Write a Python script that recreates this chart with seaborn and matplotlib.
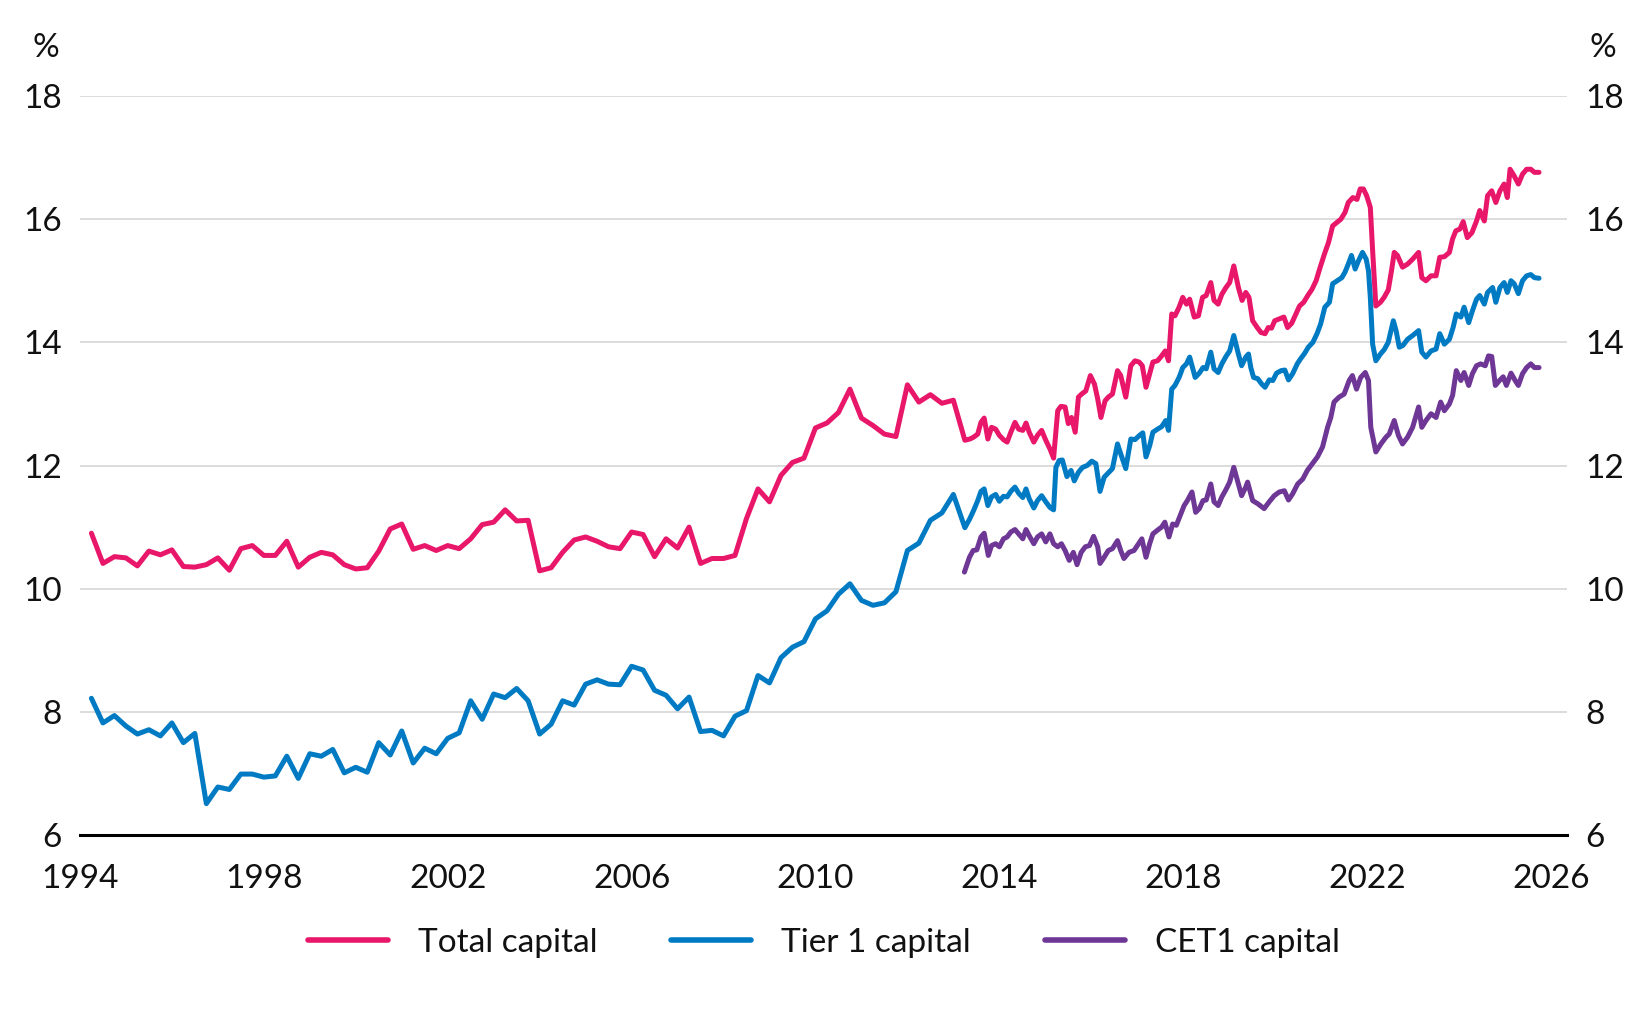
import numpy as np
import pandas as pd
import seaborn as sns
import matplotlib
matplotlib.use("Agg")
import matplotlib.pyplot as plt
from matplotlib.lines import Line2D

# ---------------- data ----------------
series_names = ["Total capital", "Tier 1 capital", "CET1 capital"]
series_colors = ["#E8176A", "#007BC3", "#6E3796"]

# quarterly readings 1994.25 .. 2013.25
quarter_years = np.arange(1994.25, 2013.26, 0.25)
total_q = [10.90, 10.41, 10.52,
           10.50, 10.37, 10.61, 10.55,
           10.63, 10.36, 10.35, 10.39,
           10.50, 10.30, 10.65, 10.70,
           10.54, 10.54, 10.77, 10.35,
           10.51, 10.59, 10.55, 10.39,
           10.32, 10.34, 10.61, 10.97,
           11.05, 10.64, 10.70, 10.62,
           10.70, 10.65, 10.81, 11.04,
           11.08, 11.28, 11.10, 11.11,
           10.29, 10.34, 10.59, 10.79,
           10.84, 10.77, 10.68, 10.65,
           10.92, 10.88, 10.52, 10.81,
           10.66, 11.00, 10.41, 10.49,
           10.49, 10.54, 11.14, 11.62,
           11.41, 11.84, 12.05, 12.12,
           12.61, 12.69, 12.86, 13.24,
           12.77, 12.65, 12.51, 12.47,
           13.31, 13.03, 13.15, 13.01,
           13.06, 12.41]
tier1_q = [8.22, 7.82, 7.94,
           7.77, 7.64, 7.71, 7.61,
           7.82, 7.50, 7.65, 6.51,
           6.78, 6.74, 6.99, 6.99,
           6.94, 6.96, 7.28, 6.92,
           7.32, 7.28, 7.39, 7.01,
           7.10, 7.02, 7.50, 7.30,
           7.69, 7.17, 7.41, 7.32,
           7.57, 7.66, 8.18, 7.88,
           8.29, 8.23, 8.38, 8.18,
           7.64, 7.80, 8.18, 8.11,
           8.45, 8.52, 8.45, 8.44,
           8.74, 8.68, 8.35, 8.27,
           8.05, 8.24, 7.68, 7.70,
           7.61, 7.93, 8.02, 8.59,
           8.47, 8.88, 9.05, 9.14,
           9.51, 9.64, 9.91, 10.08,
           9.81, 9.73, 9.77, 9.95,
           10.62, 10.74, 11.11, 11.23,
           11.53, 10.99]

# monthly readings from 2013 onwards
total_m_years = [2013.36, 2013.44, 2013.53, 2013.60, 2013.67, 2013.75, 2013.83, 2013.92,
                 2014.00, 2014.09, 2014.17, 2014.25, 2014.34, 2014.42, 2014.51, 2014.58,
                 2014.65, 2014.75, 2014.83, 2014.92, 2015.01, 2015.10, 2015.18, 2015.27,
                 2015.34, 2015.43, 2015.50, 2015.57, 2015.65, 2015.72, 2015.79, 2015.88,
                 2015.98, 2016.07, 2016.14, 2016.21, 2016.30, 2016.37, 2016.46, 2016.57,
                 2016.64, 2016.75, 2016.86, 2016.95, 2017.04, 2017.11, 2017.19, 2017.27,
                 2017.34, 2017.44, 2017.51, 2017.61, 2017.68, 2017.75, 2017.82, 2017.91,
                 2017.99, 2018.07, 2018.14, 2018.24, 2018.33, 2018.42, 2018.50, 2018.60,
                 2018.67, 2018.76, 2018.84, 2018.93, 2019.01, 2019.10, 2019.20, 2019.28,
                 2019.36, 2019.43, 2019.51, 2019.61, 2019.69, 2019.78, 2019.85, 2019.92,
                 2019.99, 2020.09, 2020.19, 2020.27, 2020.36, 2020.45, 2020.53, 2020.62,
                 2020.71, 2020.80, 2020.89, 2020.98, 2021.07, 2021.16, 2021.25, 2021.35,
                 2021.43, 2021.52, 2021.59, 2021.69, 2021.78, 2021.85, 2021.92, 2021.99,
                 2022.07, 2022.12, 2022.19, 2022.29, 2022.37, 2022.46, 2022.53, 2022.59,
                 2022.66, 2022.77, 2022.88, 2022.99, 2023.12, 2023.19, 2023.28, 2023.39,
                 2023.50, 2023.58, 2023.68, 2023.79, 2023.86, 2023.93, 2024.02, 2024.09,
                 2024.18, 2024.28, 2024.38, 2024.45, 2024.55, 2024.62, 2024.71, 2024.80,
                 2024.89, 2024.98, 2025.05, 2025.11, 2025.20, 2025.29, 2025.38, 2025.47,
                 2025.56, 2025.64, 2025.74]
total_m = [12.43, 12.46, 12.51, 12.70, 12.77, 12.43, 12.62, 12.59,
           12.49, 12.42, 12.38, 12.54, 12.70, 12.59, 12.57, 12.69,
           12.54, 12.38, 12.49, 12.57, 12.41, 12.27, 12.12, 12.89,
           12.96, 12.95, 12.68, 12.78, 12.54, 13.11, 13.16, 13.21,
           13.46, 13.32, 13.08, 12.78, 13.05, 13.11, 13.16, 13.54,
           13.46, 13.11, 13.62, 13.70, 13.68, 13.62, 13.27, 13.49,
           13.68, 13.70, 13.76, 13.86, 13.70, 14.46, 14.43, 14.57,
           14.73, 14.62, 14.70, 14.41, 14.43, 14.73, 14.76, 14.97,
           14.68, 14.62, 14.78, 14.89, 14.97, 15.24, 14.89, 14.68,
           14.81, 14.73, 14.35, 14.24, 14.16, 14.14, 14.24, 14.23,
           14.35, 14.38, 14.41, 14.24, 14.31, 14.46, 14.59, 14.65,
           14.76, 14.86, 15.00, 15.22, 15.43, 15.62, 15.89, 15.95,
           16.00, 16.11, 16.27, 16.35, 16.32, 16.49, 16.49, 16.38,
           16.19, 15.49, 14.59, 14.65, 14.73, 14.85, 15.16, 15.46,
           15.41, 15.22, 15.27, 15.35, 15.46, 15.05, 15.00, 15.08,
           15.08, 15.38, 15.39, 15.46, 15.68, 15.81, 15.84, 15.96,
           15.70, 15.78, 15.97, 16.14, 15.97, 16.38, 16.46, 16.27,
           16.46, 16.57, 16.35, 16.81, 16.70, 16.57, 16.73, 16.81,
           16.81, 16.76, 16.76]

tier1_m_years = [2013.36, 2013.44, 2013.53, 2013.60, 2013.67, 2013.75, 2013.83, 2013.92,
                 2014.00, 2014.09, 2014.17, 2014.25, 2014.34, 2014.42, 2014.51, 2014.58,
                 2014.65, 2014.75, 2014.83, 2014.92, 2015.01, 2015.10, 2015.18, 2015.23,
                 2015.30, 2015.37, 2015.47, 2015.56, 2015.63, 2015.72, 2015.81, 2015.91,
                 2016.01, 2016.10, 2016.19, 2016.28, 2016.37, 2016.46, 2016.57, 2016.64,
                 2016.75, 2016.86, 2016.95, 2017.05, 2017.12, 2017.19, 2017.27, 2017.34,
                 2017.44, 2017.53, 2017.62, 2017.68, 2017.75, 2017.82, 2017.91, 2017.99,
                 2018.07, 2018.14, 2018.26, 2018.35, 2018.43, 2018.50, 2018.60, 2018.67,
                 2018.76, 2018.84, 2018.93, 2019.01, 2019.10, 2019.20, 2019.27, 2019.36,
                 2019.42, 2019.47, 2019.53, 2019.62, 2019.71, 2019.78, 2019.87, 2019.95,
                 2020.03, 2020.13, 2020.21, 2020.29, 2020.38, 2020.48, 2020.55, 2020.64,
                 2020.72, 2020.82, 2020.91, 2020.99, 2021.08, 2021.18, 2021.25, 2021.35,
                 2021.45, 2021.52, 2021.59, 2021.66, 2021.74, 2021.81, 2021.90, 2021.98,
                 2022.03, 2022.07, 2022.12, 2022.19, 2022.29, 2022.37, 2022.46, 2022.57,
                 2022.63, 2022.70, 2022.78, 2022.88, 2022.99, 2023.12, 2023.19, 2023.28,
                 2023.39, 2023.50, 2023.58, 2023.68, 2023.79, 2023.87, 2023.94, 2024.04,
                 2024.11, 2024.21, 2024.29, 2024.38, 2024.45, 2024.55, 2024.62, 2024.73,
                 2024.80, 2024.89, 2024.98, 2025.05, 2025.13, 2025.20, 2025.29, 2025.38,
                 2025.47, 2025.56, 2025.64, 2025.74]
tier1_m = [11.14, 11.27, 11.43, 11.58, 11.62, 11.35, 11.49, 11.53,
           11.42, 11.50, 11.49, 11.58, 11.65, 11.55, 11.48, 11.62,
           11.46, 11.31, 11.43, 11.51, 11.41, 11.32, 11.28, 11.97,
           12.08, 12.09, 11.82, 11.92, 11.75, 11.89, 11.97, 12.00,
           12.07, 12.03, 11.58, 11.81, 11.88, 11.95, 12.35, 12.19,
           11.95, 12.43, 12.42, 12.49, 12.53, 12.14, 12.32, 12.54,
           12.59, 12.63, 12.73, 12.57, 13.24, 13.30, 13.43, 13.59,
           13.65, 13.76, 13.43, 13.50, 13.59, 13.57, 13.84, 13.57,
           13.51, 13.65, 13.77, 13.86, 14.11, 13.81, 13.62, 13.76,
           13.81, 13.59, 13.43, 13.41, 13.32, 13.27, 13.39, 13.38,
           13.50, 13.54, 13.55, 13.39, 13.49, 13.65, 13.73, 13.82,
           13.92, 14.00, 14.14, 14.30, 14.57, 14.65, 14.95, 15.00,
           15.05, 15.14, 15.27, 15.41, 15.19, 15.32, 15.46, 15.35,
           15.16, 14.73, 13.97, 13.70, 13.81, 13.88, 14.00, 14.35,
           14.19, 13.92, 13.95, 14.05, 14.11, 14.19, 13.84, 13.76,
           13.86, 13.89, 14.14, 13.97, 14.05, 14.24, 14.46, 14.41,
           14.57, 14.32, 14.51, 14.70, 14.76, 14.62, 14.81, 14.89,
           14.65, 14.89, 14.97, 14.81, 15.00, 14.95, 14.79, 15.00,
           15.08, 15.10, 15.05, 15.04]

cet1_years = [2013.24, 2013.35, 2013.43, 2013.51, 2013.60, 2013.67, 2013.76, 2013.83,
              2013.92, 2014.00, 2014.09, 2014.17, 2014.25, 2014.34, 2014.42, 2014.51,
              2014.58, 2014.65, 2014.75, 2014.83, 2014.92, 2015.01, 2015.10, 2015.18,
              2015.27, 2015.35, 2015.43, 2015.52, 2015.61, 2015.69, 2015.78, 2015.87,
              2015.96, 2016.05, 2016.14, 2016.19, 2016.28, 2016.37, 2016.46, 2016.57,
              2016.64, 2016.71, 2016.82, 2016.93, 2017.03, 2017.10, 2017.19, 2017.27,
              2017.34, 2017.44, 2017.53, 2017.60, 2017.69, 2017.77, 2017.85, 2017.95,
              2018.02, 2018.09, 2018.19, 2018.27, 2018.35, 2018.43, 2018.50, 2018.60,
              2018.67, 2018.76, 2018.84, 2018.93, 2019.01, 2019.10, 2019.20, 2019.27,
              2019.36, 2019.40, 2019.51, 2019.62, 2019.76, 2019.87, 2019.98, 2020.09,
              2020.20, 2020.29, 2020.38, 2020.49, 2020.60, 2020.70, 2020.81, 2020.92,
              2021.03, 2021.14, 2021.21, 2021.28, 2021.39, 2021.50, 2021.61, 2021.68,
              2021.77, 2021.86, 2021.96, 2022.03, 2022.08, 2022.19, 2022.30, 2022.41,
              2022.48, 2022.59, 2022.68, 2022.77, 2022.88, 2022.99, 2023.12, 2023.19,
              2023.28, 2023.39, 2023.50, 2023.60, 2023.68, 2023.79, 2023.86, 2023.94,
              2024.04, 2024.11, 2024.21, 2024.29, 2024.38, 2024.47, 2024.57, 2024.64,
              2024.71, 2024.79, 2024.88, 2024.96, 2025.03, 2025.13, 2025.22, 2025.29,
              2025.38, 2025.47, 2025.56, 2025.64, 2025.74]
cet1 = [10.27, 10.51, 10.62, 10.63, 10.84, 10.90, 10.54, 10.70,
        10.73, 10.68, 10.81, 10.84, 10.92, 10.96, 10.89, 10.81,
        10.96, 10.86, 10.73, 10.84, 10.89, 10.76, 10.89, 10.73,
        10.68, 10.73, 10.62, 10.46, 10.59, 10.39, 10.59, 10.68,
        10.70, 10.85, 10.68, 10.41, 10.51, 10.62, 10.65, 10.78,
        10.62, 10.49, 10.59, 10.62, 10.73, 10.81, 10.51, 10.73,
        10.89, 10.95, 11.00, 11.08, 10.84, 11.05, 11.03, 11.22,
        11.35, 11.43, 11.57, 11.24, 11.30, 11.43, 11.44, 11.70,
        11.41, 11.35, 11.49, 11.61, 11.73, 11.97, 11.70, 11.51,
        11.65, 11.73, 11.43, 11.38, 11.30, 11.41, 11.51, 11.57,
        11.59, 11.44, 11.54, 11.70, 11.78, 11.92, 12.03, 12.14,
        12.30, 12.62, 12.78, 13.03, 13.11, 13.16, 13.38, 13.46,
        13.24, 13.43, 13.51, 13.38, 12.62, 12.22, 12.35, 12.46,
        12.51, 12.73, 12.49, 12.35, 12.46, 12.62, 12.95, 12.62,
        12.73, 12.84, 12.78, 13.03, 12.89, 13.00, 13.14, 13.54,
        13.38, 13.51, 13.30, 13.49, 13.62, 13.65, 13.62, 13.78,
        13.77, 13.30, 13.38, 13.44, 13.30, 13.50, 13.38, 13.30,
        13.49, 13.59, 13.65, 13.59, 13.59]

x_ticks = [1994, 1998, 2002, 2006, 2010, 2014, 2018, 2022, 2026]
y_ticks = [6, 8, 10, 12, 14, 16, 18]

# ---------------- frame ----------------
df = pd.concat([
    pd.DataFrame({"year": list(quarter_years) + total_m_years,
                  "value": total_q + total_m, "series": series_names[0]}),
    pd.DataFrame({"year": list(quarter_years) + tier1_m_years,
                  "value": tier1_q + tier1_m, "series": series_names[1]}),
    pd.DataFrame({"year": cet1_years, "value": cet1, "series": series_names[2]}),
], ignore_index=True)

sns.set_theme(style="white")
plt.rcParams["font.family"] = ["Lato", "DejaVu Sans"]
plt.rcParams["font.weight"] = "normal"
TXT = "#111111"

fig = plt.figure(figsize=(16.48, 10.09), dpi=100)
ax = fig.add_axes([0.0485, 0.1724, 0.9024, 0.7325])

ax.yaxis.grid(True, color="#dcdcdc", linewidth=1.4)
ax.set_axisbelow(True)

sns.lineplot(data=df, x="year", y="value", hue="series", hue_order=series_names,
             palette=series_colors, linewidth=3.6, estimator=None, sort=True,
             legend=False, ax=ax)

ax.set_xlim(1994, 2026.35)
ax.set_ylim(6, 18)
ax.set_xticks(x_ticks)
ax.set_yticks(y_ticks)
ax.set_xlabel("")
ax.set_ylabel("")

for s in ["top", "right", "left"]:
    ax.spines[s].set_visible(False)
ax.spines["bottom"].set_color("#000000")
ax.spines["bottom"].set_linewidth(2.2)

ax.tick_params(axis="x", direction="out", length=10, width=2.2, color="#000000",
               pad=11, labelsize=24, labelcolor=TXT)
ax.tick_params(axis="y", length=0, pad=13, labelsize=24, labelcolor=TXT,
               left=True, right=True, labelleft=True, labelright=True)

ax.text(-0.032, 1.065, "%", transform=ax.transAxes, ha="left", va="center",
        fontsize=24, color=TXT)
ax.text(1.033, 1.065, "%", transform=ax.transAxes, ha="right", va="center",
        fontsize=24, color=TXT)

handles = [Line2D([0], [0], color=c, linewidth=4) for c in series_colors]
fig.legend(handles, series_names, loc="center", bbox_to_anchor=(0.5, 0.0654),
           ncol=3, frameon=False, fontsize=24, handlelength=2.4,
           handletextpad=0.9, columnspacing=2.2, labelcolor=TXT)

fig.savefig("out.png", dpi=100)
